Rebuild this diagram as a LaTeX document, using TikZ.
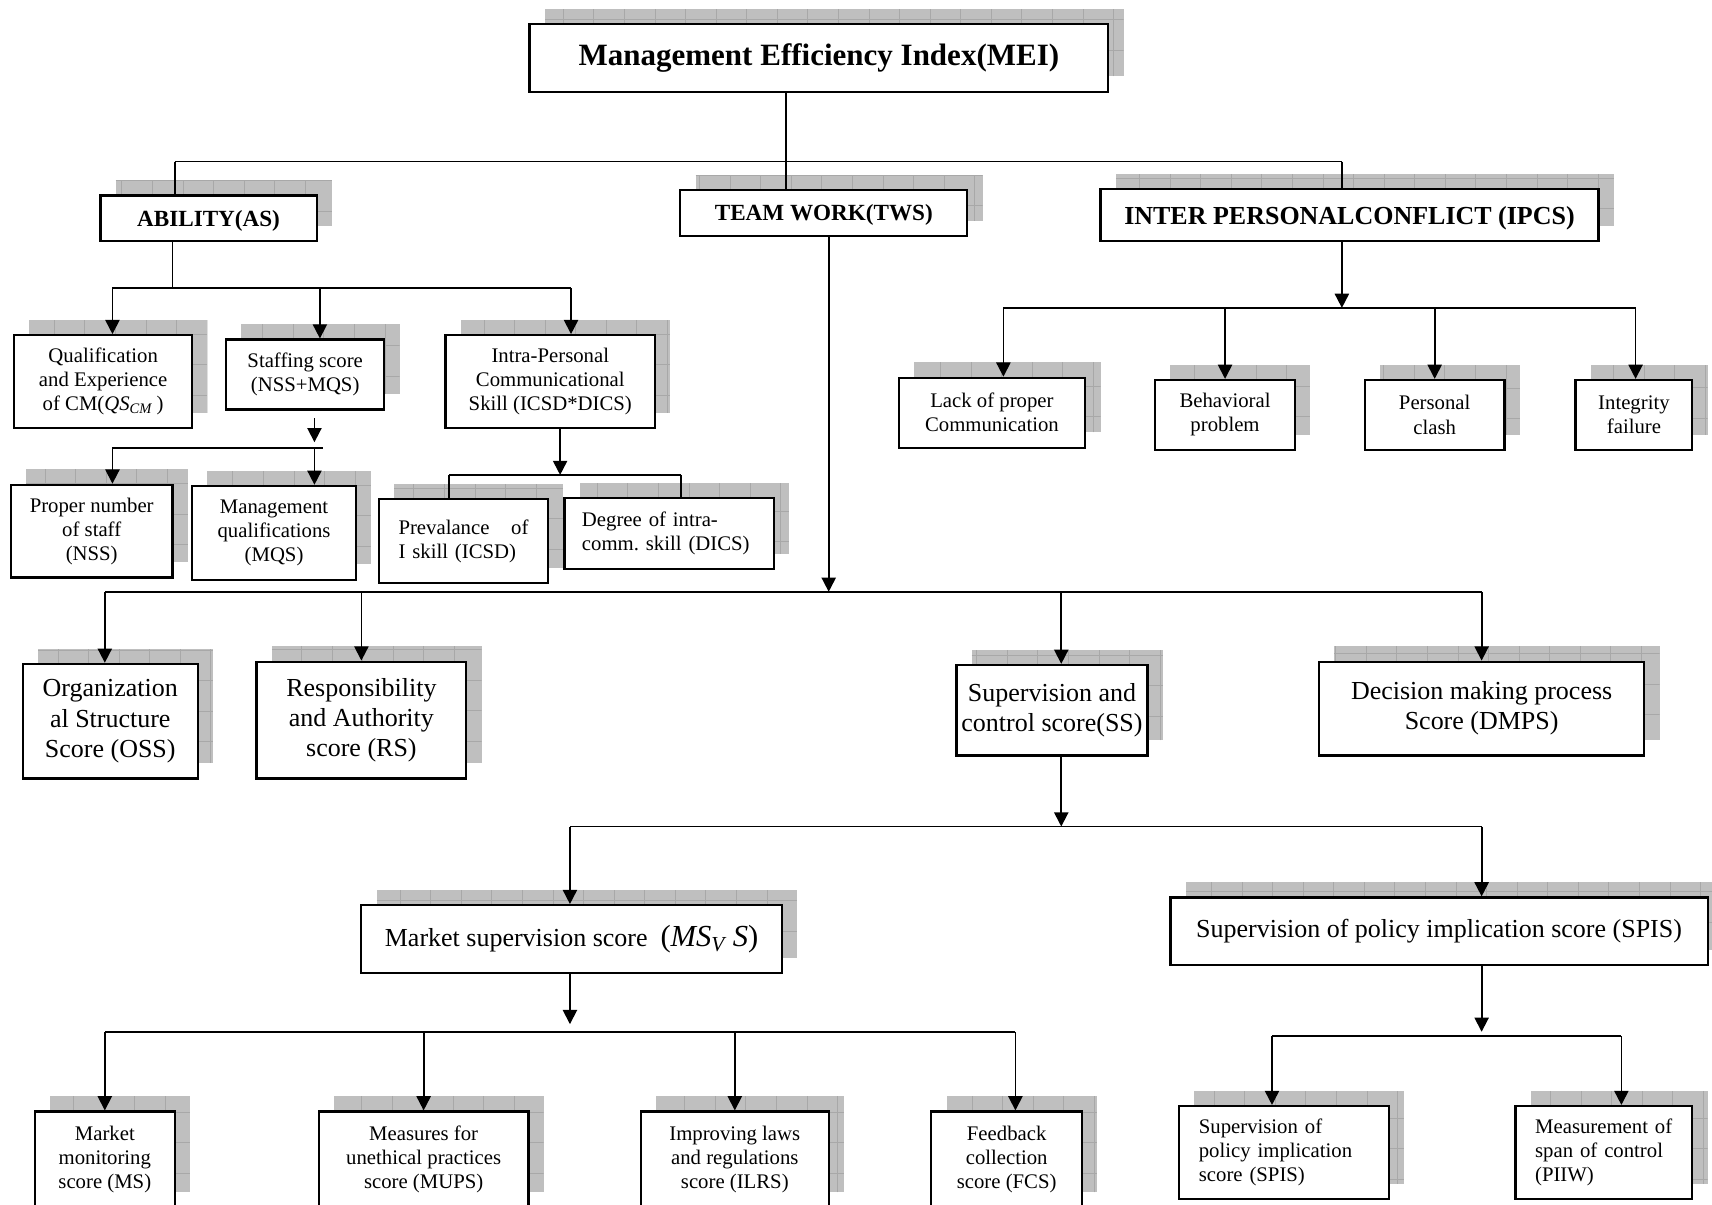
\documentclass[tikz,border=0pt]{standalone}
\usepackage{fontspec}
\setmainfont{Liberation Serif}
\usetikzlibrary{arrows.meta}
\tikzstyle{fShadeGrid} = [draw=gray!68, line width=0.4pt]
\tikzstyle{fShade} = [draw=none, fill=gray!50, transform canvas={shift={(7pt,7pt)}}, path picture={\draw[fShadeGrid] (path picture bounding box.south west) grid[step=14pt] (path picture bounding box.north east);}]
\tikzstyle{fBox} = [rectangle, draw=black, line width=1pt, fill=white, inner sep=2pt, align=center, preaction={fShade}]
\tikzstyle{fTitle} = [fBox, font=\bfseries\fontsize{14.2pt}{16pt}\selectfont]
\tikzstyle{fHead} = [fBox, text depth=0pt, font=\bfseries\fontsize{10.6pt}{12pt}\selectfont]
\tikzstyle{fHeadLarge} = [fBox, text depth=0pt, font=\bfseries\fontsize{11.9pt}{14pt}\selectfont]
\tikzstyle{fSmall} = [fBox, font=\fontsize{9.5pt}{11pt}\selectfont]
\tikzstyle{fMid} = [fBox, font=\fontsize{11.9pt}{13.8pt}\selectfont]
\tikzstyle{fLeft} = [align=left, inner xsep=9pt]
\tikzstyle{fLine} = [line width=0.8pt]
\tikzstyle{fArrow} = [line width=0.8pt, -{Triangle[width=6.5pt,length=6.5pt]}]

\begin{document}
\begin{tikzpicture}[x=0.5pt, y=-0.5pt]
    \useasboundingbox (0,0) rectangle (1568,1103);
    \clip (0,0) rectangle (1568,1103);

    \node (mei) [fTitle, minimum width=265pt, minimum height=31pt] at (750,53) {Management Efficiency Index(MEI)};
    \node (ability) [fHead, minimum width=99pt, minimum height=21pt] at (191,200) {ABILITY(AS)};
    \node (teamWork) [fHead, minimum width=131.5pt, minimum height=21pt] at (754.5,195) {TEAM WORK(TWS)};
    \node (ipcs) [fHeadLarge, minimum width=228pt, minimum height=24pt] at (1236,197) {INTER PERSONALCONFLICT (IPCS)};

    \node (qual) [fSmall, minimum width=81.5pt, minimum height=42.5pt] at (94.5,349.5) {Qualification\\and Experience\\of CM(\textit{QS}\textsubscript{\textit{CM}}\,)};
    \node (staffing) [fSmall, minimum width=72.5pt, minimum height=32pt] at (279.5,343) {Staffing score\\(NSS+MQS)};
    \node (intraPersonal) [fSmall, minimum width=96pt, minimum height=42.5pt] at (504,349.5) {Intra-Personal\\Communicational\\Skill (ICSD*DICS)};
    \node (nss) [fSmall, minimum width=74pt, minimum height=42.5pt] at (84,486.5) {Proper number\\of staff\\(NSS)};
    \node (mqs) [fSmall, minimum width=75pt, minimum height=43pt] at (251,488) {Management\\qualifications\\(MQS)};
    \node (prevalance) [fSmall, fLeft, text width=59.5pt, minimum height=38.5pt] at (424.5,495.5) {Prevalance\hfill of\\I skill (ICSD)};
    \node (degree) [fSmall, fLeft, inner xsep=8pt, text width=80pt, minimum height=32.5pt] at (613,488.5) {Degree of intra-\\comm.\ skill (DICS)};

    \node (lack) [fSmall, minimum width=85.5pt, minimum height=32pt] at (908.5,378) {Lack of proper\\Communication};
    \node (behav) [fSmall, minimum width=64pt, minimum height=32pt] at (1122,380) {Behavioral\\problem};
    \node (personal) [fSmall, minimum width=64pt, minimum height=32pt] at (1314,380) {Personal\\clash};
    \node (integrity) [fSmall, minimum width=53.5pt, minimum height=32pt] at (1496.5,380) {Integrity\\failure};

    \node (org) [fMid, minimum width=80pt, minimum height=52.5pt] at (101,660.5) {Organization\\al Structure\\Score (OSS)};
    \node (resp) [fMid, minimum width=96pt, minimum height=53.5pt] at (331,659.5) {Responsibility\\and Authority\\score (RS)};
    \node (superv) [fMid, minimum width=87.5pt, minimum height=41.5pt] at (963.5,650.5) {Supervision and\\control score(SS)};
    \node (decision) [fMid, minimum width=149pt, minimum height=43pt] at (1357,649) {Decision making process\\Score (DMPS)};

    \node (market) [fMid, minimum width=192.5pt, minimum height=31pt] at (523.5,860) {Market supervision score \ {\fontsize{14pt}{16pt}\selectfont(\textit{MS}\textsubscript{\textit{V}}\,\textit{S})}};
    \node (spisTop) [fMid, minimum width=246pt, minimum height=31pt] at (1318,853) {Supervision of policy implication score (SPIS)};

    \node (ms) [fSmall, minimum width=64pt, minimum height=44pt] at (96,1062) {Market\\monitoring\\score (MS)};
    \node (mups) [fSmall, minimum width=96pt, minimum height=44pt] at (388,1062) {Measures for\\unethical practices\\score (MUPS)};
    \node (ilrs) [fSmall, minimum width=86pt, minimum height=44pt] at (673,1062) {Improving laws\\and regulations\\score (ILRS)};
    \node (fcs) [fSmall, minimum width=69pt, minimum height=44pt] at (922,1062) {Feedback\\collection\\score (FCS)};
    \node (spisChild) [fSmall, fLeft, text width=78pt, minimum height=42.5pt] at (1176,1055.5) {Supervision of\\policy implication\\score (SPIS)};
    \node (piiw) [fSmall, fLeft, text width=63pt, minimum height=42.5pt] at (1469,1055.5) {Measurement of\\span of control\\(PIIW)};

    % top level
    \coordinate (meiJoin) at (720,148);
    \coordinate (abilityTop) at (160,148);
    \coordinate (ipcsTop) at (1229,148);
    \draw [fLine] (mei.south -| meiJoin) -- (meiJoin);
    \draw [fLine] (abilityTop) -- (ipcsTop);
    \draw [fLine] (abilityTop) -- (abilityTop |- ability.north);
    \draw [fLine] (meiJoin) -- (meiJoin |- teamWork.north);
    \draw [fLine] (ipcsTop) -- (ipcsTop |- ipcs.north);

    % ability
    \coordinate (abJoin) at (158,264);
    \coordinate (abL) at (103,264);
    \coordinate (abM) at (293,264);
    \coordinate (abR) at (523,264);
    \draw [fLine] (ability.south -| abJoin) -- (abJoin);
    \draw [fLine] (abL) -- (abR);
    \draw [fArrow] (abL) -- (abL |- qual.north);
    \draw [fArrow] (abM) -- (abM |- staffing.north);
    \draw [fArrow] (abR) -- (abR |- intraPersonal.north);

    \coordinate (stTop) at (288,383);
    \coordinate (stJoin) at (288,410);
    \coordinate (stL) at (103,410);
    \coordinate (stR) at (296,410);
    \draw [fArrow, shorten >=2.5pt] (stTop) -- (stJoin);
    \draw [fLine] (stL) -- (stR);
    \draw [fArrow] (stL) -- (stL |- nss.north);
    \draw [fArrow] (stJoin) -- (stJoin |- mqs.north);

    \coordinate (ipJoin) at (513,435);
    \coordinate (ipL) at (411,435);
    \coordinate (ipR) at (624,435);
    \draw [fArrow] (intraPersonal.south -| ipJoin) -- (ipJoin);
    \draw [fLine] (ipL) -- (ipR);
    \draw [fLine] (ipL) -- (ipL |- prevalance.north);
    \draw [fLine] (ipR) -- (ipR |- degree.north);

    % inter personal conflict
    \coordinate (icJoin) at (1229,282);
    \coordinate (icL) at (919,282);
    \coordinate (icB) at (1122,282);
    \coordinate (icC) at (1314,282);
    \coordinate (icR) at (1498,282);
    \draw [fArrow] (ipcs.south -| icJoin) -- (icJoin);
    \draw [fLine] (icL) -- (icR);
    \draw [fArrow] (icL) -- (icL |- lack.north);
    \draw [fArrow] (icB) -- (icB |- behav.north);
    \draw [fArrow] (icC) -- (icC |- personal.north);
    \draw [fArrow] (icR) -- (icR |- integrity.north);

    % team work
    \coordinate (twJoin) at (759,542);
    \coordinate (twL) at (96,542);
    \coordinate (twA) at (331,542);
    \coordinate (twB) at (972,542);
    \coordinate (twR) at (1357,542);
    \draw [fArrow] (teamWork.south -| twJoin) -- (twJoin);
    \draw [fLine] (twL) -- (twR);
    \draw [fArrow] (twL) -- (twL |- org.north);
    \draw [fArrow] (twA) -- (twA |- resp.north);
    \draw [fArrow] (twB) -- (twB |- superv.north);
    \draw [fArrow] (twR) -- (twR |- decision.north);

    % supervision
    \coordinate (svJoin) at (972,757);
    \coordinate (svL) at (522,757);
    \coordinate (svR) at (1357,757);
    \draw [fArrow] (superv.south -| svJoin) -- (svJoin);
    \draw [fLine] (svL) -- (svR);
    \draw [fArrow] (svL) -- (svL |- market.north);
    \draw [fArrow] (svR) -- (svR |- spisTop.north);

    \coordinate (mkJoin) at (522,945);
    \coordinate (mkL) at (96,945);
    \coordinate (mkB) at (388,945);
    \coordinate (mkC) at (673,945);
    \coordinate (mkR) at (930,945);
    \draw [fArrow, shorten >=3.5pt] (market.south -| mkJoin) -- (mkJoin);
    \draw [fLine] (mkL) -- (mkR);
    \draw [fArrow] (mkL) -- (mkL |- ms.north);
    \draw [fArrow] (mkB) -- (mkB |- mups.north);
    \draw [fArrow] (mkC) -- (mkC |- ilrs.north);
    \draw [fArrow] (mkR) -- (mkR |- fcs.north);

    \coordinate (spJoin) at (1357,949);
    \coordinate (spL) at (1165,949);
    \coordinate (spR) at (1485,949);
    \draw [fArrow, shorten >=2pt] (spisTop.south -| spJoin) -- (spJoin);
    \draw [fLine] (spL) -- (spR);
    \draw [fArrow] (spL) -- (spL |- spisChild.north);
    \draw [fArrow] (spR) -- (spR |- piiw.north);
\end{tikzpicture}
\end{document}
